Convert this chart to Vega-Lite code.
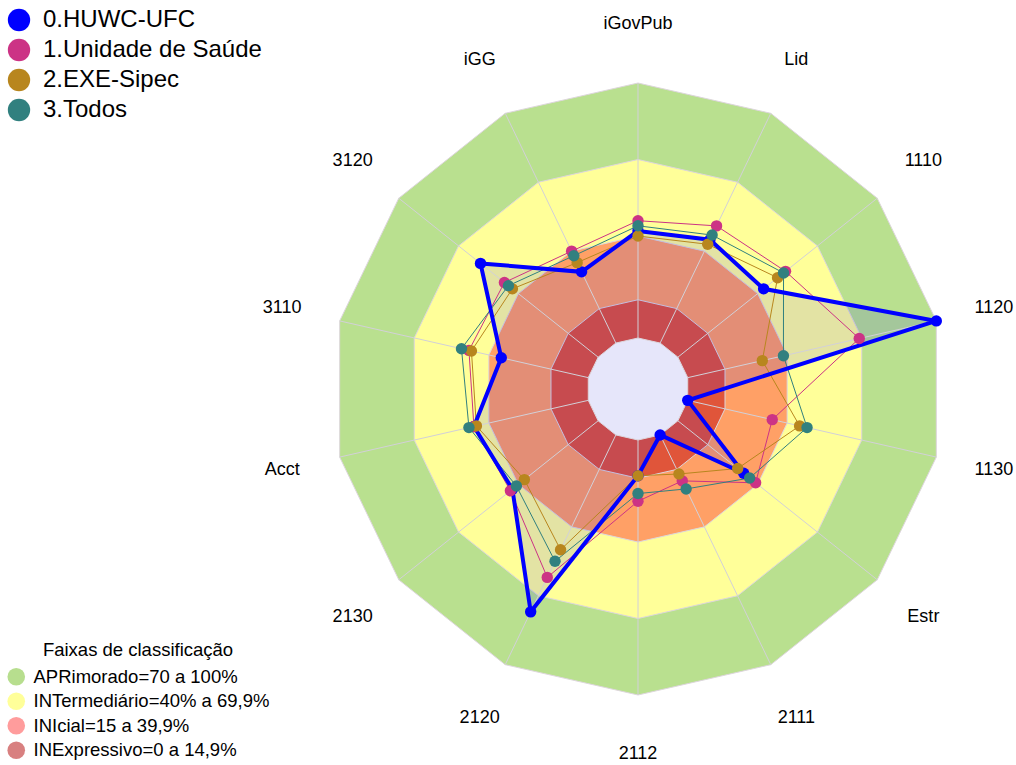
{
  "$schema": "https://vega.github.io/schema/vega-lite/v6.json",
  "width": 1016,
  "height": 765,
  "padding": 0,
  "autosize": {"type": "none"},
  "background": "white",
  "config": {"view": {"stroke": null}, "font": "Liberation Sans"},
  "datasets": {
    "eixos": [
      {"eixo": "iGovPub", "idx": 0}, {"eixo": "Lid", "idx": 1}, {"eixo": "1110", "idx": 2},
      {"eixo": "1120", "idx": 3}, {"eixo": "1130", "idx": 4}, {"eixo": "Estr", "idx": 5},
      {"eixo": "2111", "idx": 6}, {"eixo": "2112", "idx": 7}, {"eixo": "2120", "idx": 8},
      {"eixo": "2130", "idx": 9}, {"eixo": "Acct", "idx": 10}, {"eixo": "3110", "idx": 11},
      {"eixo": "3120", "idx": 12}, {"eixo": "iGG", "idx": 13}
    ],
    "series": [
      {"serie": "0.HUWC-UFC", "eixo": "iGovPub", "valor": 42},
      {"serie": "0.HUWC-UFC", "eixo": "Lid", "valor": 45},
      {"serie": "0.HUWC-UFC", "eixo": "1110", "valor": 43},
      {"serie": "0.HUWC-UFC", "eixo": "1120", "valor": 100},
      {"serie": "0.HUWC-UFC", "eixo": "1130", "valor": 0},
      {"serie": "0.HUWC-UFC", "eixo": "Estr", "valor": 33},
      {"serie": "0.HUWC-UFC", "eixo": "2111", "valor": 0},
      {"serie": "0.HUWC-UFC", "eixo": "2112", "valor": 14},
      {"serie": "0.HUWC-UFC", "eixo": "2120", "valor": 77},
      {"serie": "0.HUWC-UFC", "eixo": "2130", "valor": 43},
      {"serie": "0.HUWC-UFC", "eixo": "Acct", "valor": 46},
      {"serie": "0.HUWC-UFC", "eixo": "3110", "valor": 35},
      {"serie": "0.HUWC-UFC", "eixo": "3120", "valor": 59},
      {"serie": "0.HUWC-UFC", "eixo": "iGG", "valor": 31},
      {"serie": "1.Unidade de Saúde", "eixo": "iGovPub", "valor": 46},
      {"serie": "1.Unidade de Saúde", "eixo": "Lid", "valor": 51},
      {"serie": "1.Unidade de Saúde", "eixo": "1110", "valor": 54},
      {"serie": "1.Unidade de Saúde", "eixo": "1120", "valor": 69},
      {"serie": "1.Unidade de Saúde", "eixo": "1130", "valor": 34},
      {"serie": "1.Unidade de Saúde", "eixo": "Estr", "valor": 39},
      {"serie": "1.Unidade de Saúde", "eixo": "2111", "valor": 20},
      {"serie": "1.Unidade de Saúde", "eixo": "2112", "valor": 24},
      {"serie": "1.Unidade de Saúde", "eixo": "2120", "valor": 62},
      {"serie": "1.Unidade de Saúde", "eixo": "2130", "valor": 44},
      {"serie": "1.Unidade de Saúde", "eixo": "Acct", "valor": 46},
      {"serie": "1.Unidade de Saúde", "eixo": "3110", "valor": 48},
      {"serie": "1.Unidade de Saúde", "eixo": "3120", "valor": 47},
      {"serie": "1.Unidade de Saúde", "eixo": "iGG", "valor": 40},
      {"serie": "2.EXE-Sipec", "eixo": "iGovPub", "valor": 40},
      {"serie": "2.EXE-Sipec", "eixo": "Lid", "valor": 43},
      {"serie": "2.EXE-Sipec", "eixo": "1110", "valor": 50},
      {"serie": "2.EXE-Sipec", "eixo": "1120", "valor": 30},
      {"serie": "2.EXE-Sipec", "eixo": "1130", "valor": 45},
      {"serie": "2.EXE-Sipec", "eixo": "Estr", "valor": 30},
      {"serie": "2.EXE-Sipec", "eixo": "2111", "valor": 17},
      {"serie": "2.EXE-Sipec", "eixo": "2112", "valor": 14},
      {"serie": "2.EXE-Sipec", "eixo": "2120", "valor": 50},
      {"serie": "2.EXE-Sipec", "eixo": "2130", "valor": 37},
      {"serie": "2.EXE-Sipec", "eixo": "Acct", "valor": 45},
      {"serie": "2.EXE-Sipec", "eixo": "3110", "valor": 47},
      {"serie": "2.EXE-Sipec", "eixo": "3120", "valor": 43},
      {"serie": "2.EXE-Sipec", "eixo": "iGG", "valor": 35},
      {"serie": "3.Todos", "eixo": "iGovPub", "valor": 44},
      {"serie": "3.Todos", "eixo": "Lid", "valor": 47},
      {"serie": "3.Todos", "eixo": "1110", "valor": 53},
      {"serie": "3.Todos", "eixo": "1120", "valor": 38.5},
      {"serie": "3.Todos", "eixo": "1130", "valor": 48},
      {"serie": "3.Todos", "eixo": "Estr", "valor": 36},
      {"serie": "3.Todos", "eixo": "2111", "valor": 23.5},
      {"serie": "3.Todos", "eixo": "2112", "valor": 21},
      {"serie": "3.Todos", "eixo": "2120", "valor": 55},
      {"serie": "3.Todos", "eixo": "2130", "valor": 41},
      {"serie": "3.Todos", "eixo": "Acct", "valor": 48},
      {"serie": "3.Todos", "eixo": "3110", "valor": 51},
      {"serie": "3.Todos", "eixo": "3120", "valor": 45},
      {"serie": "3.Todos", "eixo": "iGG", "valor": 38}
    ],
    "faixas": [
      {"faixa": "APRimorado=70 a 100%", "eixo": "iGovPub", "nivel": 100},
      {"faixa": "APRimorado=70 a 100%", "eixo": "Lid", "nivel": 100},
      {"faixa": "APRimorado=70 a 100%", "eixo": "1110", "nivel": 100},
      {"faixa": "APRimorado=70 a 100%", "eixo": "1120", "nivel": 100},
      {"faixa": "APRimorado=70 a 100%", "eixo": "1130", "nivel": 100},
      {"faixa": "APRimorado=70 a 100%", "eixo": "Estr", "nivel": 100},
      {"faixa": "APRimorado=70 a 100%", "eixo": "2111", "nivel": 100},
      {"faixa": "APRimorado=70 a 100%", "eixo": "2112", "nivel": 100},
      {"faixa": "APRimorado=70 a 100%", "eixo": "2120", "nivel": 100},
      {"faixa": "APRimorado=70 a 100%", "eixo": "2130", "nivel": 100},
      {"faixa": "APRimorado=70 a 100%", "eixo": "Acct", "nivel": 100},
      {"faixa": "APRimorado=70 a 100%", "eixo": "3110", "nivel": 100},
      {"faixa": "APRimorado=70 a 100%", "eixo": "3120", "nivel": 100},
      {"faixa": "APRimorado=70 a 100%", "eixo": "iGG", "nivel": 100},
      {"faixa": "INTermediário=40% a 69,9%", "eixo": "iGovPub", "nivel": 70},
      {"faixa": "INTermediário=40% a 69,9%", "eixo": "Lid", "nivel": 70},
      {"faixa": "INTermediário=40% a 69,9%", "eixo": "1110", "nivel": 70},
      {"faixa": "INTermediário=40% a 69,9%", "eixo": "1120", "nivel": 70},
      {"faixa": "INTermediário=40% a 69,9%", "eixo": "1130", "nivel": 70},
      {"faixa": "INTermediário=40% a 69,9%", "eixo": "Estr", "nivel": 70},
      {"faixa": "INTermediário=40% a 69,9%", "eixo": "2111", "nivel": 70},
      {"faixa": "INTermediário=40% a 69,9%", "eixo": "2112", "nivel": 70},
      {"faixa": "INTermediário=40% a 69,9%", "eixo": "2120", "nivel": 70},
      {"faixa": "INTermediário=40% a 69,9%", "eixo": "2130", "nivel": 70},
      {"faixa": "INTermediário=40% a 69,9%", "eixo": "Acct", "nivel": 70},
      {"faixa": "INTermediário=40% a 69,9%", "eixo": "3110", "nivel": 70},
      {"faixa": "INTermediário=40% a 69,9%", "eixo": "3120", "nivel": 70},
      {"faixa": "INTermediário=40% a 69,9%", "eixo": "iGG", "nivel": 70},
      {"faixa": "INIcial=15 a 39,9%", "eixo": "iGovPub", "nivel": 40},
      {"faixa": "INIcial=15 a 39,9%", "eixo": "Lid", "nivel": 40},
      {"faixa": "INIcial=15 a 39,9%", "eixo": "1110", "nivel": 40},
      {"faixa": "INIcial=15 a 39,9%", "eixo": "1120", "nivel": 40},
      {"faixa": "INIcial=15 a 39,9%", "eixo": "1130", "nivel": 40},
      {"faixa": "INIcial=15 a 39,9%", "eixo": "Estr", "nivel": 40},
      {"faixa": "INIcial=15 a 39,9%", "eixo": "2111", "nivel": 40},
      {"faixa": "INIcial=15 a 39,9%", "eixo": "2112", "nivel": 40},
      {"faixa": "INIcial=15 a 39,9%", "eixo": "2120", "nivel": 40},
      {"faixa": "INIcial=15 a 39,9%", "eixo": "2130", "nivel": 40},
      {"faixa": "INIcial=15 a 39,9%", "eixo": "Acct", "nivel": 40},
      {"faixa": "INIcial=15 a 39,9%", "eixo": "3110", "nivel": 40},
      {"faixa": "INIcial=15 a 39,9%", "eixo": "3120", "nivel": 40},
      {"faixa": "INIcial=15 a 39,9%", "eixo": "iGG", "nivel": 40},
      {"faixa": "INExpressivo=0 a 14,9%", "eixo": "iGovPub", "nivel": 15},
      {"faixa": "INExpressivo=0 a 14,9%", "eixo": "Lid", "nivel": 15},
      {"faixa": "INExpressivo=0 a 14,9%", "eixo": "1110", "nivel": 15},
      {"faixa": "INExpressivo=0 a 14,9%", "eixo": "1120", "nivel": 15},
      {"faixa": "INExpressivo=0 a 14,9%", "eixo": "1130", "nivel": 15},
      {"faixa": "INExpressivo=0 a 14,9%", "eixo": "Estr", "nivel": 15},
      {"faixa": "INExpressivo=0 a 14,9%", "eixo": "2111", "nivel": 15},
      {"faixa": "INExpressivo=0 a 14,9%", "eixo": "2112", "nivel": 15},
      {"faixa": "INExpressivo=0 a 14,9%", "eixo": "2120", "nivel": 15},
      {"faixa": "INExpressivo=0 a 14,9%", "eixo": "2130", "nivel": 15},
      {"faixa": "INExpressivo=0 a 14,9%", "eixo": "Acct", "nivel": 15},
      {"faixa": "INExpressivo=0 a 14,9%", "eixo": "3110", "nivel": 15},
      {"faixa": "INExpressivo=0 a 14,9%", "eixo": "3120", "nivel": 15},
      {"faixa": "INExpressivo=0 a 14,9%", "eixo": "iGG", "nivel": 15},
      {"faixa": "Centro", "eixo": "iGovPub", "nivel": 0},
      {"faixa": "Centro", "eixo": "Lid", "nivel": 0},
      {"faixa": "Centro", "eixo": "1110", "nivel": 0},
      {"faixa": "Centro", "eixo": "1120", "nivel": 0},
      {"faixa": "Centro", "eixo": "1130", "nivel": 0},
      {"faixa": "Centro", "eixo": "Estr", "nivel": 0},
      {"faixa": "Centro", "eixo": "2111", "nivel": 0},
      {"faixa": "Centro", "eixo": "2112", "nivel": 0},
      {"faixa": "Centro", "eixo": "2120", "nivel": 0},
      {"faixa": "Centro", "eixo": "2130", "nivel": 0},
      {"faixa": "Centro", "eixo": "Acct", "nivel": 0},
      {"faixa": "Centro", "eixo": "3110", "nivel": 0},
      {"faixa": "Centro", "eixo": "3120", "nivel": 0},
      {"faixa": "Centro", "eixo": "iGG", "nivel": 0}
    ],
    "legenda_faixas": [
      {"faixa": "APRimorado=70 a 100%"},
      {"faixa": "INTermediário=40% a 69,9%"},
      {"faixa": "INIcial=15 a 39,9%"},
      {"faixa": "INExpressivo=0 a 14,9%"}
    ]
  },
  "resolve": {
    "scale": {"fill": "independent"},
    "legend": {"fill": "independent", "color": "independent"}
  },
  "layer": [
    {
      "data": {"name": "faixas"},
      "transform": [
        {"filter": "datum.faixa != 'Centro'"},
        {"lookup": "eixo", "from": {"data": {"name": "eixos"}, "key": "eixo", "fields": ["idx"]}},
        {"calculate": "2.55*(datum.nivel+20)", "as": "r"},
        {"calculate": "datum.r*sin(datum.idx*2*PI/14)", "as": "px"},
        {"calculate": "datum.r*cos(datum.idx*2*PI/14)", "as": "py"}
      ],
      "mark": {"type": "line", "interpolate": "linear-closed", "stroke": "#ddd6dc", "strokeWidth": 1},
      "encoding": {
        "x": {"field": "px", "type": "quantitative", "scale": {"domain": [-638, 378], "nice": false, "zero": false}, "axis": null},
        "y": {"field": "py", "type": "quantitative", "scale": {"domain": [-376, 389], "nice": false, "zero": false}, "axis": null},
        "order": {"field": "idx", "type": "quantitative"},
        "detail": {"field": "faixa"},
        "fill": {
          "field": "faixa", "type": "nominal",
          "scale": {
            "domain": ["APRimorado=70 a 100%", "INTermediário=40% a 69,9%", "INIcial=15 a 39,9%", "INExpressivo=0 a 14,9%"],
            "range": ["#B9E08F", "#FFFF99", "#FFA066", "#E0553A"]
          },
          "legend": null
        }
      }
    },
    {
      "data": {"name": "series"},
      "transform": [
        {"filter": "datum.serie == '0.HUWC-UFC'"},
        {"lookup": "eixo", "from": {"data": {"name": "eixos"}, "key": "eixo", "fields": ["idx"]}},
        {"calculate": "2.55*(datum.valor+20)", "as": "r"},
        {"calculate": "datum.r*sin(datum.idx*2*PI/14)", "as": "px"},
        {"calculate": "datum.r*cos(datum.idx*2*PI/14)", "as": "py"}
      ],
      "mark": {"type": "line", "interpolate": "linear-closed", "fill": "#0000FF", "fillOpacity": 0.11, "strokeOpacity": 0},
      "encoding": {
        "x": {"field": "px", "type": "quantitative"},
        "y": {"field": "py", "type": "quantitative"},
        "order": {"field": "idx", "type": "quantitative"}
      }
    },
    {
      "data": {"name": "faixas"},
      "transform": [
        {"filter": "datum.faixa == 'Centro'"},
        {"lookup": "eixo", "from": {"data": {"name": "eixos"}, "key": "eixo", "fields": ["idx"]}},
        {"calculate": "2.55*(datum.nivel+20)", "as": "r"},
        {"calculate": "datum.r*sin(datum.idx*2*PI/14)", "as": "px"},
        {"calculate": "datum.r*cos(datum.idx*2*PI/14)", "as": "py"}
      ],
      "mark": {"type": "line", "interpolate": "linear-closed", "stroke": "#ddd6dc", "strokeWidth": 1, "fill": "#E6E6FA"},
      "encoding": {
        "x": {"field": "px", "type": "quantitative"},
        "y": {"field": "py", "type": "quantitative"},
        "order": {"field": "idx", "type": "quantitative"}
      }
    },
    {
      "data": {"name": "eixos"},
      "transform": [
        {"calculate": "51*sin(datum.idx*2*PI/14)", "as": "px"},
        {"calculate": "51*cos(datum.idx*2*PI/14)", "as": "py"},
        {"calculate": "306*sin(datum.idx*2*PI/14)", "as": "px2"},
        {"calculate": "306*cos(datum.idx*2*PI/14)", "as": "py2"}
      ],
      "mark": {"type": "rule", "stroke": "#d2d0d8", "strokeWidth": 1},
      "encoding": {
        "x": {"field": "px", "type": "quantitative"},
        "y": {"field": "py", "type": "quantitative"},
        "x2": {"field": "px2"},
        "y2": {"field": "py2"}
      }
    },
    {
      "data": {"name": "series"},
      "transform": [
        {"filter": "datum.serie != '0.HUWC-UFC'"},
        {"lookup": "eixo", "from": {"data": {"name": "eixos"}, "key": "eixo", "fields": ["idx"]}},
        {"calculate": "2.55*(datum.valor+20)", "as": "r"},
        {"calculate": "datum.r*sin(datum.idx*2*PI/14)", "as": "px"},
        {"calculate": "datum.r*cos(datum.idx*2*PI/14)", "as": "py"}
      ],
      "mark": {"type": "line", "interpolate": "linear-closed", "strokeWidth": 1},
      "encoding": {
        "x": {"field": "px", "type": "quantitative"},
        "y": {"field": "py", "type": "quantitative"},
        "order": {"field": "idx", "type": "quantitative"},
        "color": {
          "field": "serie", "type": "nominal",
          "scale": {"domain": ["0.HUWC-UFC", "1.Unidade de Saúde", "2.EXE-Sipec", "3.Todos"], "range": ["#0000FF", "#CC3385", "#B8861E", "#31807F"]},
          "legend": null
        }
      }
    },
    {
      "data": {"name": "series"},
      "transform": [
        {"filter": "datum.serie == '0.HUWC-UFC'"},
        {"lookup": "eixo", "from": {"data": {"name": "eixos"}, "key": "eixo", "fields": ["idx"]}},
        {"calculate": "2.55*(datum.valor+20)", "as": "r"},
        {"calculate": "datum.r*sin(datum.idx*2*PI/14)", "as": "px"},
        {"calculate": "datum.r*cos(datum.idx*2*PI/14)", "as": "py"}
      ],
      "mark": {"type": "line", "interpolate": "linear-closed", "strokeWidth": 4},
      "encoding": {
        "x": {"field": "px", "type": "quantitative"},
        "y": {"field": "py", "type": "quantitative"},
        "order": {"field": "idx", "type": "quantitative"},
        "color": {"field": "serie", "type": "nominal", "legend": null}
      }
    },
    {
      "data": {"name": "series"},
      "transform": [
        {"lookup": "eixo", "from": {"data": {"name": "eixos"}, "key": "eixo", "fields": ["idx"]}},
        {"calculate": "2.55*(datum.valor+20)", "as": "r"},
        {"calculate": "datum.r*sin(datum.idx*2*PI/14)", "as": "px"},
        {"calculate": "datum.r*cos(datum.idx*2*PI/14)", "as": "py"}
      ],
      "mark": {"type": "point", "filled": true, "size": 130, "opacity": 1},
      "encoding": {
        "x": {"field": "px", "type": "quantitative"},
        "y": {"field": "py", "type": "quantitative"},
        "color": {
          "field": "serie", "type": "nominal",
          "legend": {
            "title": null, "orient": "none", "legendX": 7, "legendY": 8,
            "symbolType": "circle", "symbolSize": 500, "symbolStrokeWidth": 0, "symbolOpacity": 1,
            "labelFontSize": 24, "labelFont": "Liberation Sans", "labelColor": "#000000",
            "rowPadding": 6, "labelOffset": 12, "labelLimit": 400
          }
        }
      }
    },
    {
      "data": {"name": "eixos"},
      "transform": [
        {"calculate": "365*sin(datum.idx*2*PI/14)", "as": "px"},
        {"calculate": "365*cos(datum.idx*2*PI/14)", "as": "py"}
      ],
      "mark": {"type": "text", "fontSize": 18, "font": "Liberation Sans", "color": "#000000", "align": "center", "baseline": "middle"},
      "encoding": {
        "x": {"field": "px", "type": "quantitative"},
        "y": {"field": "py", "type": "quantitative"},
        "text": {"field": "eixo"}
      }
    },
    {
      "data": {"name": "legenda_faixas"},
      "mark": {"type": "point", "filled": true, "opacity": 0},
      "encoding": {
        "fill": {
          "field": "faixa", "type": "nominal",
          "scale": {
            "domain": ["APRimorado=70 a 100%", "INTermediário=40% a 69,9%", "INIcial=15 a 39,9%", "INExpressivo=0 a 14,9%"],
            "range": ["#B7DE8E", "#FFFF99", "#FF9C9C", "#D88080"]
          },
          "legend": {
            "title": "Faixas de classificação", "orient": "none", "legendX": 7, "legendY": 641,
            "titleFontSize": 18.5, "titleFontWeight": "normal", "titleFont": "Liberation Sans", "titleColor": "#000000",
            "titleAnchor": "middle", "titlePadding": 8, "titleLimit": 500,
            "symbolType": "circle", "symbolSize": 310, "symbolOpacity": 1, "symbolStrokeWidth": 0,
            "labelFontSize": 18.5, "labelFont": "Liberation Sans", "labelColor": "#000000",
            "rowPadding": 5.5, "labelOffset": 8, "labelLimit": 400
          }
        }
      }
    }
  ]
}
